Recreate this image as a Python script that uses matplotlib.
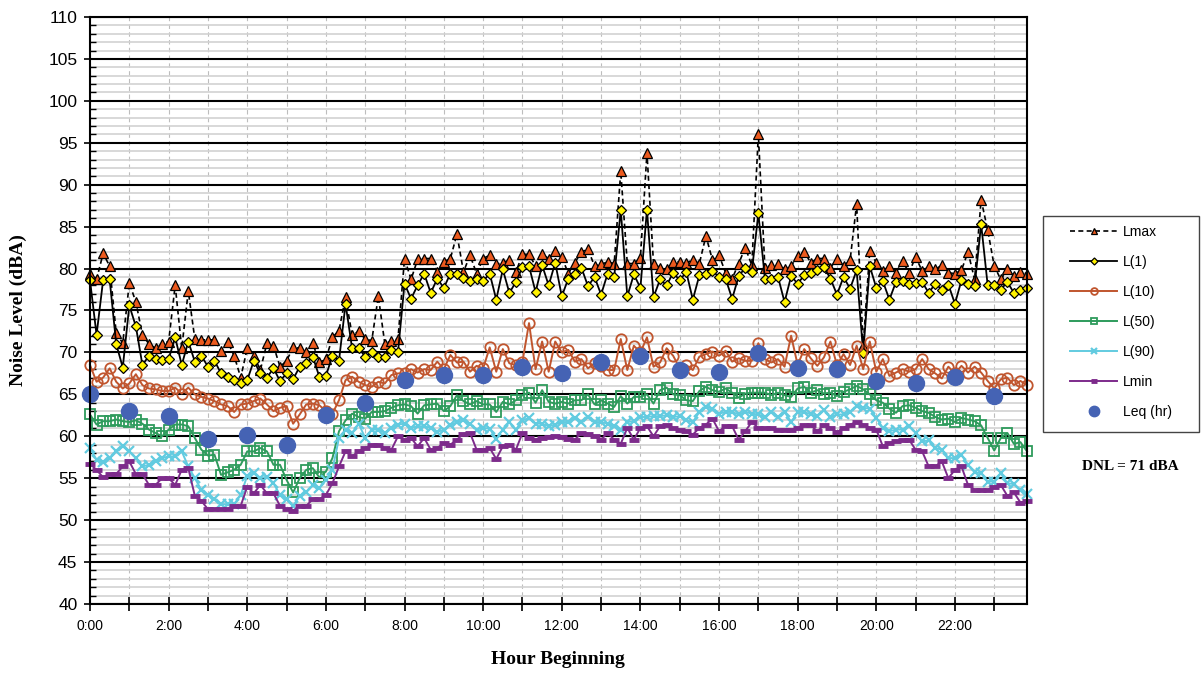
import numpy as np
import matplotlib
matplotlib.use("Agg")
import matplotlib.pyplot as plt
from matplotlib.patches import Rectangle
from matplotlib.ticker import MultipleLocator, FixedLocator

# 10-minute intervals over the day (hours)
hours = np.arange(144) / 6.0
leq_hours = np.arange(24)

lmax = [79.4, 78.7, 81.8, 80.3, 72.3, 71.1, 78.3, 76.0, 72.1, 71.0, 70.5, 71.0, 71.3, 78.0, 70.5, 77.3, 71.6, 71.5, 71.5, 71.5, 70.2, 71.3, 69.6, 67.0, 70.5,
        69.6, 67.9, 71.1, 70.8, 68.3, 69.0, 70.6, 70.5, 70.0, 71.1, 68.8, 69.2, 71.8, 72.6, 76.6, 72.1, 72.5, 71.6, 71.4, 76.7, 71.0, 71.4, 71.6, 81.2,
        78.7, 81.1, 81.2, 81.2, 79.6, 80.8, 81.2, 84.1, 79.6, 81.6, 79.4, 81.2, 81.6, 80.5, 80.7, 81.0, 79.6, 81.7, 81.7, 80.3, 81.7, 81.2, 82.1, 81.4,
        79.4, 80.7, 82.0, 82.3, 80.3, 80.5, 80.8, 80.6, 91.6, 80.6, 80.6, 81.3, 93.8, 80.6, 80.1, 79.9, 80.8, 80.8, 80.7, 81.0, 80.6, 83.9, 81.0, 81.6,
        79.5, 78.8, 80.6, 82.5, 80.4, 96.0, 80.1, 80.4, 80.6, 80.0, 80.3, 81.5, 82.0, 80.7, 81.2, 81.2, 80.1, 81.2, 80.3, 81.0, 87.7, 70.8, 82.1, 80.7,
        79.7, 80.3, 79.5, 80.9, 79.5, 81.4, 79.7, 80.3, 79.9, 80.4, 79.5, 79.4, 79.8, 82.0, 78.7, 88.2, 84.6, 80.3, 78.7, 79.9, 79.1, 79.6, 79.4]

l1 = [78.6, 72.1, 78.6, 78.7, 71.0, 68.2, 75.6, 73.1, 68.5, 69.6, 69.2, 69.1, 69.2, 71.8, 68.5, 71.3, 68.9, 69.6, 68.3, 69.0, 67.5, 67.1, 66.7, 66.3, 66.7,
      69.0, 67.5, 67.0, 68.1, 66.6, 67.5, 66.8, 68.3, 68.7, 69.5, 67.1, 67.2, 69.6, 69.0, 75.8, 70.5, 70.5, 69.5, 70.0, 69.5, 69.5, 70.3, 70.0, 78.2,
      76.4, 78.0, 79.4, 77.1, 78.8, 77.7, 79.4, 79.3, 78.9, 78.5, 78.8, 78.5, 79.4, 76.3, 79.9, 77.1, 78.4, 80.2, 80.3, 77.2, 80.4, 78.0, 80.7, 76.7,
      78.8, 79.3, 80.1, 77.9, 79.0, 76.9, 79.4, 79.0, 87.0, 76.7, 79.3, 77.7, 87.0, 76.6, 78.7, 78.0, 79.5, 78.6, 79.6, 76.3, 79.2, 79.4, 79.7, 79.0,
      78.8, 76.4, 79.1, 80.1, 79.6, 86.6, 78.8, 78.7, 79.0, 76.0, 79.1, 78.2, 79.2, 79.5, 79.8, 80.2, 78.8, 76.9, 79.0, 77.6, 79.8, 69.9, 80.3, 77.7,
      78.5, 76.3, 78.4, 78.5, 78.2, 78.3, 78.4, 77.1, 78.2, 77.5, 78.1, 75.8, 78.6, 78.2, 77.9, 85.3, 78.0, 78.0, 77.5, 78.4, 77.1, 77.5, 77.7]

l10 = [68.5, 66.5, 67.0, 68.1, 66.5, 65.7, 66.3, 67.4, 66.1, 65.7, 65.6, 65.4, 65.4, 65.8, 65.1, 65.8, 65.0, 64.7, 64.5, 64.2, 63.8, 63.6, 62.9, 63.8, 63.9,
       64.2, 64.5, 63.8, 63.0, 63.4, 63.6, 61.5, 62.6, 63.8, 63.9, 63.7, 63.0, 62.7, 64.3, 66.7, 67.1, 66.5, 66.1, 65.9, 66.5, 66.3, 67.3, 67.5, 67.5,
       68.0, 67.6, 68.0, 67.9, 68.9, 68.0, 69.7, 68.8, 68.9, 67.7, 68.4, 68.1, 70.6, 67.7, 70.4, 68.7, 68.5, 68.9, 73.5, 68.0, 71.3, 67.7, 71.3, 70.0,
       70.3, 68.9, 69.2, 68.1, 68.7, 68.4, 67.9, 67.9, 71.6, 67.9, 70.8, 70.0, 71.8, 68.3, 68.8, 70.5, 69.6, 68.1, 68.5, 67.9, 69.5, 69.8, 70.1, 69.6,
       70.2, 68.9, 69.3, 69.0, 69.0, 71.1, 69.2, 68.8, 69.2, 68.3, 72.0, 68.5, 70.4, 69.3, 68.4, 69.4, 71.3, 68.5, 69.8, 68.5, 70.8, 68.0, 71.3, 67.7,
       69.2, 67.2, 67.6, 68.0, 67.7, 68.0, 69.2, 68.0, 67.5, 66.9, 68.3, 67.5, 68.4, 67.6, 68.3, 67.6, 66.6, 65.7, 66.8, 67.0, 66.1, 66.6, 66.1]

l50 = [62.6, 61.4, 61.8, 61.8, 62.0, 61.8, 61.7, 61.9, 61.5, 60.8, 60.4, 60.0, 60.8, 61.4, 61.4, 61.2, 59.8, 58.4, 57.7, 57.8, 55.4, 55.7, 56.0, 56.6, 58.2,
       58.2, 58.6, 58.2, 56.6, 56.6, 54.8, 53.3, 55.0, 56.0, 56.2, 55.1, 55.8, 57.4, 60.6, 61.9, 62.7, 62.3, 62.1, 62.9, 62.9, 63.0, 63.4, 63.7, 63.8,
       63.6, 62.7, 63.7, 63.8, 63.9, 63.0, 63.6, 64.9, 64.2, 63.8, 64.2, 63.8, 63.8, 62.9, 64.1, 63.8, 64.3, 64.9, 65.2, 64.0, 65.5, 64.1, 63.9, 64.1,
       63.9, 64.3, 64.3, 65.0, 63.8, 64.3, 63.9, 63.5, 64.8, 63.9, 64.7, 64.7, 65.0, 63.9, 65.5, 65.8, 65.0, 64.9, 64.3, 64.2, 65.4, 65.9, 65.5, 65.3,
       65.7, 65.2, 64.6, 65.1, 65.2, 65.2, 65.2, 64.9, 65.2, 64.9, 64.7, 65.7, 65.9, 65.2, 65.5, 65.1, 65.2, 64.8, 65.3, 65.6, 66.0, 65.6, 65.0, 64.3,
       64.0, 63.3, 62.8, 63.6, 63.7, 63.4, 63.0, 62.8, 62.3, 62.0, 62.1, 61.7, 62.2, 62.0, 61.8, 61.3, 59.8, 58.3, 59.8, 60.4, 59.1, 59.3, 58.2]

l90 = [58.6, 57.2, 56.9, 57.4, 58.2, 58.8, 58.2, 57.4, 56.4, 56.6, 57.0, 57.4, 57.6, 57.6, 58.2, 56.4, 55.0, 53.6, 53.0, 52.5, 51.9, 51.9, 51.9, 53.0, 55.3,
       55.6, 55.0, 55.2, 54.4, 53.0, 52.5, 51.7, 52.9, 53.3, 54.2, 53.8, 54.8, 56.0, 59.8, 60.8, 60.4, 61.5, 59.8, 60.8, 60.8, 60.4, 61.0, 61.4, 61.5,
       61.0, 61.2, 61.2, 61.0, 60.5, 60.8, 61.3, 61.7, 61.9, 61.5, 60.8, 61.0, 60.9, 59.7, 60.8, 61.7, 60.8, 61.9, 62.2, 61.5, 61.5, 61.2, 61.4, 61.7,
       61.7, 62.2, 61.7, 62.3, 61.7, 61.7, 61.5, 61.2, 60.8, 61.7, 61.8, 62.3, 62.3, 62.4, 62.4, 62.5, 62.3, 62.4, 61.9, 61.7, 62.9, 63.5, 63.3, 62.7,
       62.9, 62.9, 62.6, 62.9, 62.7, 62.6, 62.3, 62.9, 62.3, 62.9, 61.7, 62.9, 62.9, 62.6, 62.4, 63.1, 62.3, 62.6, 62.6, 62.9, 63.6, 63.4, 63.3, 62.2,
       61.0, 60.6, 60.8, 60.8, 61.2, 60.4, 59.4, 59.5, 58.6, 58.4, 57.4, 57.4, 57.8, 56.6, 55.7, 55.6, 54.6, 54.6, 55.6, 54.4, 54.3, 53.6, 53.1]

lmin = [56.7, 56.0, 55.1, 55.5, 55.5, 56.4, 57.0, 55.5, 55.5, 54.2, 54.2, 55.0, 55.0, 54.2, 56.0, 56.2, 52.9, 52.3, 51.3, 51.3, 51.3, 51.3, 51.7, 51.7, 54.0,
        53.2, 54.2, 53.2, 53.2, 51.7, 51.3, 51.1, 51.7, 51.7, 52.5, 52.5, 53.0, 54.4, 56.4, 58.2, 57.6, 58.2, 58.6, 59.0, 59.0, 58.6, 58.4, 60.0, 59.6,
        59.8, 58.8, 59.8, 58.4, 58.6, 59.2, 59.0, 59.6, 60.3, 60.4, 58.4, 58.4, 58.6, 57.3, 58.8, 59.0, 58.4, 60.4, 59.8, 59.6, 59.8, 59.9, 60.0, 59.9,
        59.7, 59.6, 60.4, 60.3, 60.0, 59.6, 60.4, 59.6, 59.1, 61.0, 59.6, 61.0, 61.2, 60.0, 61.2, 61.3, 61.0, 60.8, 60.6, 60.2, 61.0, 61.4, 62.1, 60.6,
        61.2, 61.2, 59.6, 60.6, 61.7, 61.0, 61.0, 61.0, 60.8, 60.8, 60.8, 61.0, 61.4, 61.3, 60.6, 61.3, 61.0, 60.5, 61.0, 61.4, 61.7, 61.4, 61.0, 60.8,
        58.8, 59.2, 59.4, 59.5, 59.6, 58.4, 58.2, 56.4, 56.4, 57.0, 55.0, 56.0, 56.4, 54.2, 53.6, 53.6, 53.6, 54.0, 54.2, 52.9, 53.3, 52.1, 52.3]

leq = [65.1, 63.0, 62.4, 59.7, 60.1, 59.0, 62.5, 64.0, 66.7, 67.3, 67.3, 68.3,
       67.5, 68.9, 69.6, 67.9, 67.7, 69.9, 68.1, 68.0, 66.6, 66.3, 67.1, 64.8]

tick_labels = ["0:00", "2:00", "4:00", "6:00", "8:00", "10:00", "12:00",
               "14:00", "16:00", "18:00", "20:00", "22:00"]

fig = plt.figure(figsize=(12.03, 6.74), dpi=100)
ax = fig.add_axes([90 / 1203, 1 - 604 / 674, 937 / 1203, 587 / 674])

h_lmax, = ax.plot(hours, lmax, color="black", lw=1.2, ls=(0, (3, 2)), marker="^",
                  ms=7.5, mfc="#EC5A1E", mec="black", mew=0.9, label="Lmax")
h_l1, = ax.plot(hours, l1, color="black", lw=1.3, marker="D", ms=5.5,
                mfc="#FFF200", mec="black", mew=0.9, label="L(1)")
h_l10, = ax.plot(hours, l10, color="#C0552E", lw=1.4, marker="o", ms=7.5,
                 mfc="none", mec="#C0552E", mew=1.3, label="L(10)")
h_l50, = ax.plot(hours, l50, color="#2E9B5C", lw=1.4, marker="s", ms=6.5,
                 mfc="none", mec="#2E9B5C", mew=1.3, label="L(50)")
h_l90, = ax.plot(hours, l90, color="#62CBE0", lw=1.4, marker="x", ms=6.5,
                 mew=1.6, label="L(90)")
h_lmin, = ax.plot(hours, lmin, color="#7D2B8B", lw=1.4, marker="_", ms=7,
                  mew=3.5, label="Lmin")
h_leq, = ax.plot(leq_hours, leq, ls="none", marker="o", ms=11.5,
                 color="#4563B4", label="Leq (hr)")
for h in (h_lmax, h_l1, h_l10, h_l50, h_l90, h_lmin, h_leq):
    h.set_clip_on(False)

ax.set_xlim(0, hours[-1])
ax.set_ylim(40, 110)

# grid
ax.set_axisbelow(True)
ax.yaxis.set_major_locator(MultipleLocator(5))
ax.yaxis.set_minor_locator(MultipleLocator(1))
ax.xaxis.set_minor_locator(MultipleLocator(1))
ax.xaxis.set_major_locator(FixedLocator(np.arange(0, 24, 2)))
ax.set_xticklabels(tick_labels)
ax.grid(axis="y", which="minor", color="#d2d2d2", lw=1.2)
ax.grid(axis="y", which="major", color="black", lw=1.5)
ax.grid(axis="x", which="both", color="#bdbdbd", lw=0.8, ls=(0, (4, 3)))

for s in ax.spines.values():
    s.set_linewidth(1.5)
    s.set_color("black")

ax.tick_params(axis="y", which="major", direction="out", length=4, width=1.2,
               pad=5, labelsize=12.5)
ax.tick_params(axis="y", which="minor", direction="in", length=4, width=1)
ax.tick_params(axis="x", which="both", direction="inout", length=10, width=1.2,
               pad=6, labelsize=10)
for lab in ax.get_xticklabels() + ax.get_yticklabels():
    lab.set_fontfamily("Liberation Sans")

fig.text(18 / 1203, 1 - 310 / 674, "Noise Level (dBA)", rotation=90,
         ha="center", va="center", fontsize=14, fontweight="bold",
         family="Liberation Serif")
fig.text(558 / 1203, 1 - 659 / 674, "Hour Beginning", ha="center", va="center",
         fontsize=14, fontweight="bold", family="Liberation Serif")
fig.text(1130 / 1203, 1 - 466 / 674, "DNL = 71 dBA", ha="center", va="center",
         fontsize=11, fontweight="bold", family="Liberation Serif")

# legend box
fig.patches.append(Rectangle((1043 / 1203, 1 - 432 / 674), 156 / 1203, 216 / 674,
                             transform=fig.transFigure, fill=False,
                             edgecolor="#444444", lw=1))
fig.legend(handles=[h_lmax, h_l1, h_l10, h_l50, h_l90, h_lmin, h_leq],
           loc="upper left", bbox_to_anchor=(1070 / 1203, 1 - 225 / 674),
           frameon=False, borderpad=0, borderaxespad=0, handlelength=3.4,
           handletextpad=0.4, labelspacing=1.15, markerscale=0.65,
           prop={"family": "Liberation Sans", "size": 10})

fig.savefig("out.png", dpi=100)
plt.close(fig)
